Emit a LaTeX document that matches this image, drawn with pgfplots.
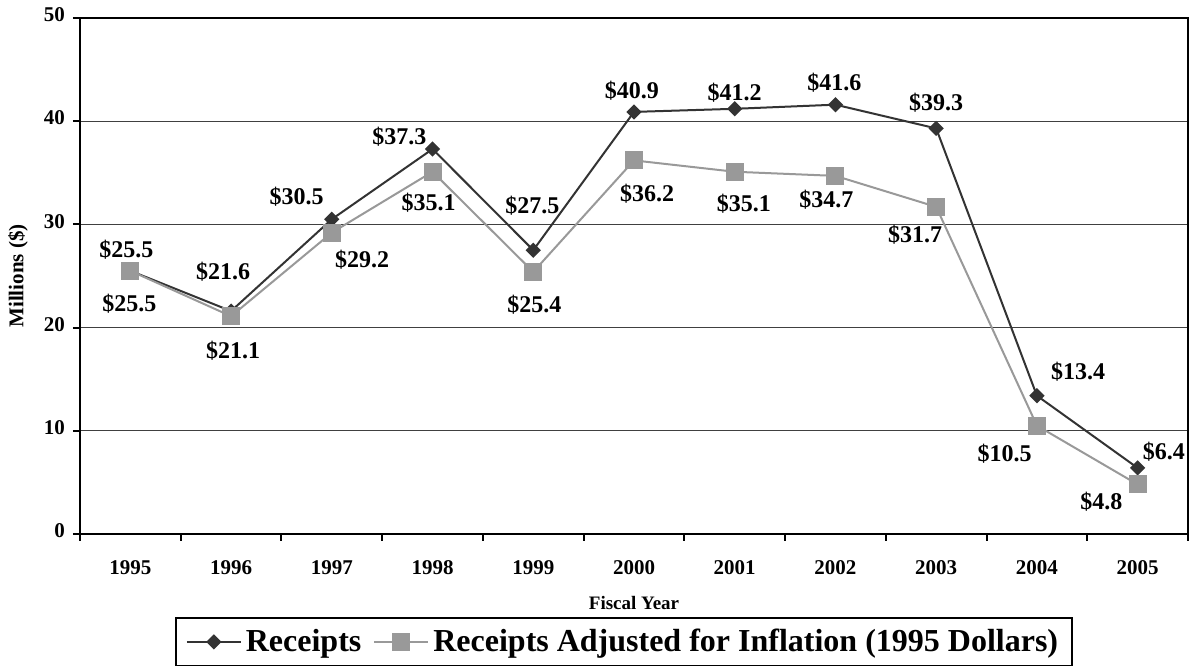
\documentclass[border=0pt]{standalone}
\usepackage{pgfplots}
\pgfplotsset{compat=1.18}
\usepackage{fontspec}
\setmainfont{Liberation Serif}
\definecolor{dk}{RGB}{51,51,51}
\definecolor{lt}{RGB}{153,153,153}
\begin{document}
\begin{tikzpicture}
\begin{axis}[
  name=ax,
  scale only axis, width=554pt, height=258pt,
  xmin=-0.5, xmax=10.5, ymin=0, ymax=50,
  ytick={0,10,20,30,40,50},
  xtick={-0.5,0.5,1.5,2.5,3.5,4.5,5.5,6.5,7.5,8.5,9.5,10.5},
  xticklabels={1995,1996,1997,1998,1999,2000,2001,2002,2003,2004,2005},
  x tick label as interval,
  typeset ticklabels with strut,
  tick align=outside, tick pos=left,
  major tick length=3.5pt,
  tick style={black, line width=1pt},
  ymajorgrids, grid style={black!75, line width=0.5pt},
  axis line style={line width=1pt},
  clip=false,
  /pgf/number format/assume math mode=true,
  ticklabel style={font=\bfseries\fontsize{10.5}{12}\selectfont},
  xticklabel style={yshift=-5pt},
  yticklabel style={xshift=-0.5pt, yshift=0.5pt},
  xlabel={Fiscal Year},
  xlabel style={font=\bfseries\fontsize{9.5}{11}\selectfont, at={(axis description cs:0.5,0)}, anchor=center, yshift=-34.5pt},
  ylabel={Millions (\$)},
  ylabel style={font=\bfseries\fontsize{10.5}{12}\selectfont, at={(axis description cs:0,0.5)}, anchor=center, yshift=31pt},
  legend style={at={(rel axis cs:0.491,0)}, anchor=north, yshift=-41.5pt, draw=black, line width=1.2pt,
    font=\bfseries\fontsize{16}{19}\selectfont, inner xsep=5pt, inner ysep=3.5pt,
    /tikz/every even column/.append style={column sep=4pt}},
  legend columns=2,
  legend image code/.code={\draw[mark repeat=2,mark phase=2] plot coordinates {(0pt,0pt) (13.5pt,0pt) (27pt,0pt)};},
]
\addplot[color=dk, line width=1pt, mark=square*, mark size=2.2pt, mark options={fill=dk, rotate=45, solid}]
coordinates {(0,25.5) (1,21.6) (2,30.5) (3,37.3) (4,27.5) (5,40.9) (6,41.2) (7,41.6) (8,39.3) (9,13.4) (10,6.4)};
\addlegendentry{Receipts}
\addplot[color=lt, line width=1pt, mark=square*, mark size=4pt, mark options={fill=lt, solid}]
coordinates {(0,25.5) (1,21.1) (2,29.2) (3,35.1) (4,25.4) (5,36.2) (6,35.1) (7,34.7) (8,31.7) (9,10.5) (10,4.8)};
\addlegendentry{Receipts Adjusted for Inflation (1995 Dollars)}
\begin{scope}[every node/.style={font=\bfseries\fontsize{12}{14}\selectfont, anchor=center, inner sep=0pt}]
\node at (axis cs:-0.04,27.5) {\$25.5};
\node at (axis cs:0.92,25.4) {\$21.6};
\node at (axis cs:1.65,32.7) {\$30.5};
\node at (axis cs:2.67,38.5) {\$37.3};
\node at (axis cs:3.99,31.8) {\$27.5};
\node at (axis cs:4.98,43.0) {\$40.9};
\node at (axis cs:6.0,42.8) {\$41.2};
\node at (axis cs:6.99,43.7) {\$41.6};
\node at (axis cs:8.0,41.8) {\$39.3};
\node at (axis cs:9.41,15.7) {\$13.4};
\node at (axis cs:10.26,8.0) {\$6.4};
\node at (axis cs:-0.01,22.3) {\$25.5};
\node at (axis cs:1.02,17.8) {\$21.1};
\node at (axis cs:2.30,26.6) {\$29.2};
\node at (axis cs:2.96,32.1) {\$35.1};
\node at (axis cs:4.01,22.2) {\$25.4};
\node at (axis cs:5.13,33.0) {\$36.2};
\node at (axis cs:6.09,32.0) {\$35.1};
\node at (axis cs:6.91,32.4) {\$34.7};
\node at (axis cs:7.79,29.0) {\$31.7};
\node at (axis cs:8.68,7.75) {\$10.5};
\node at (axis cs:9.64,3.1) {\$4.8};
\end{scope}
\end{axis}
\pgfresetboundingbox
\path ([shift={(-40pt,-66pt)}]ax.south west) rectangle ([shift={(1pt,9pt)}]ax.north east);
\end{tikzpicture}
\end{document}
